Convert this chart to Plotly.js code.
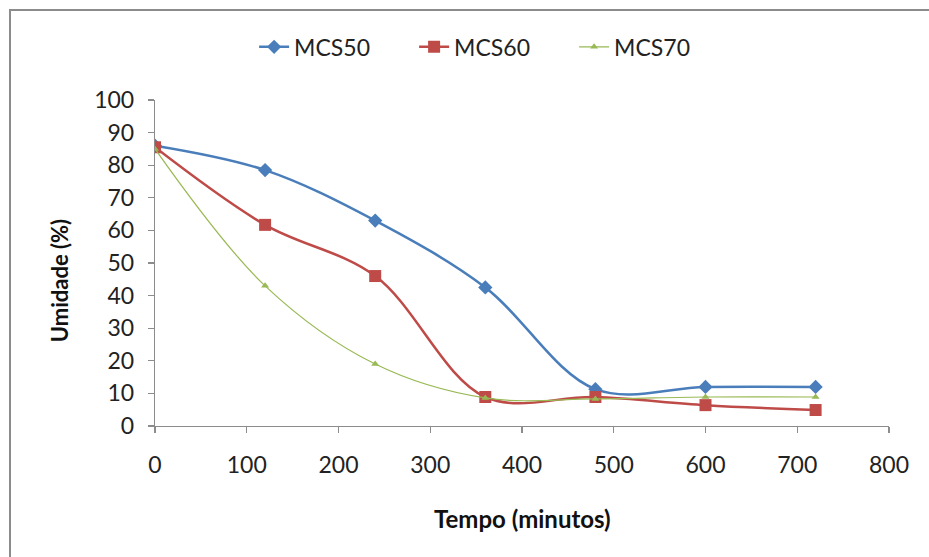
<!DOCTYPE html>
<html>
<head>
<meta charset="utf-8">
<script src="https://cdn.plot.ly/plotly-3.0.1.min.js"></script>
<style>
  html, body { margin: 0; padding: 0; background: #fff; overflow: hidden; }
  #frame { position: absolute; left: 9px; top: 9px; width: 940px; height: 570px;
           border-left: 2px solid #8c8c8c; border-top: 2px solid #8c8c8c; box-sizing: border-box; }
  #chart { position: absolute; left: 0; top: 0; width: 929px; height: 557px; }
</style>
</head>
<body>
<div id="frame"></div>
<div id="chart"></div>
<script>
// Drying time (minutes) and moisture content (%) per sample
const tempo = [0, 120, 240, 360, 480, 600, 720];
const mcs50 = [86, 78.5, 63, 42.5, 11.3, 12, 12];
const mcs60 = [85.5, 61.7, 46, 8.9, 8.9, 6.4, 4.9];
const mcs70 = [85, 43, 19, 8.6, 8.3, 8.9, 8.9];
const xTicks = [0, 100, 200, 300, 400, 500, 600, 700, 800];
const yTicks = [0, 10, 20, 30, 40, 50, 60, 70, 80, 90, 100];

const font = "Lato, 'Open Sans', sans-serif";

const traces = [
  { name: 'MCS50', x: tempo, y: mcs50, mode: 'lines+markers',
    line: { color: '#4A7EBB', width: 2.5, shape: 'spline', smoothing: 1 },
    marker: { symbol: 'diamond', size: 11, color: '#4A7EBB' } },
  { name: 'MCS60', x: tempo, y: mcs60, mode: 'lines+markers',
    line: { color: '#BE4B48', width: 2.5, shape: 'spline', smoothing: 1 },
    marker: { symbol: 'square', size: 12, color: '#BE4B48' } },
  { name: 'MCS70', x: tempo, y: mcs70, mode: 'lines+markers',
    line: { color: '#98B954', width: 1.2, shape: 'spline', smoothing: 1 },
    marker: { symbol: 'triangle-up', size: 7, color: '#98B954' } }
];

const axisBase = {
  showgrid: false, zeroline: false, showline: true, linecolor: '#8c8c8c', linewidth: 1.2,
  ticks: 'outside', ticklen: 6, tickcolor: '#8c8c8c', tickwidth: 1.2,
  tickfont: { family: font, size: 23, color: '#222' }
};

const titleFont = { family: font, color: '#111', weight: 'bold' };

const layout = {
  width: 929, height: 557,
  margin: { l: 155, r: 40, t: 100, b: 131 },
  paper_bgcolor: 'rgba(0,0,0,0)', plot_bgcolor: 'rgba(0,0,0,0)',
  showlegend: true,
  legend: { orientation: 'h', x: 0.462, xanchor: 'center', y: 1.163, yanchor: 'middle',
            font: { family: font, size: 23, color: '#222' },
            entrywidth: 115, entrywidthmode: 'pixels' },
  xaxis: Object.assign({}, axisBase, {
    range: [0, 800], tickvals: xTicks, ticktext: xTicks.map(String), ticklabelstandoff: 12
  }),
  yaxis: Object.assign({}, axisBase, {
    range: [0, 100], tickvals: yTicks, ticktext: yTicks.map(String), ticklabelstandoff: 9
  }),
  annotations: [
    { text: 'Tempo (minutos)', xref: 'paper', yref: 'paper', x: 0.5, y: -0.285,
      xanchor: 'center', yanchor: 'middle', showarrow: false,
      font: Object.assign({ size: 24 }, titleFont) },
    { text: 'Umidade (%)', xref: 'paper', yref: 'paper', x: -0.129, y: 0.445,
      xanchor: 'center', yanchor: 'middle', textangle: -90, showarrow: false,
      font: Object.assign({ size: 22 }, titleFont) }
  ]
};

Plotly.newPlot('chart', traces, layout, { staticPlot: true });
</script>
</body>
</html>
